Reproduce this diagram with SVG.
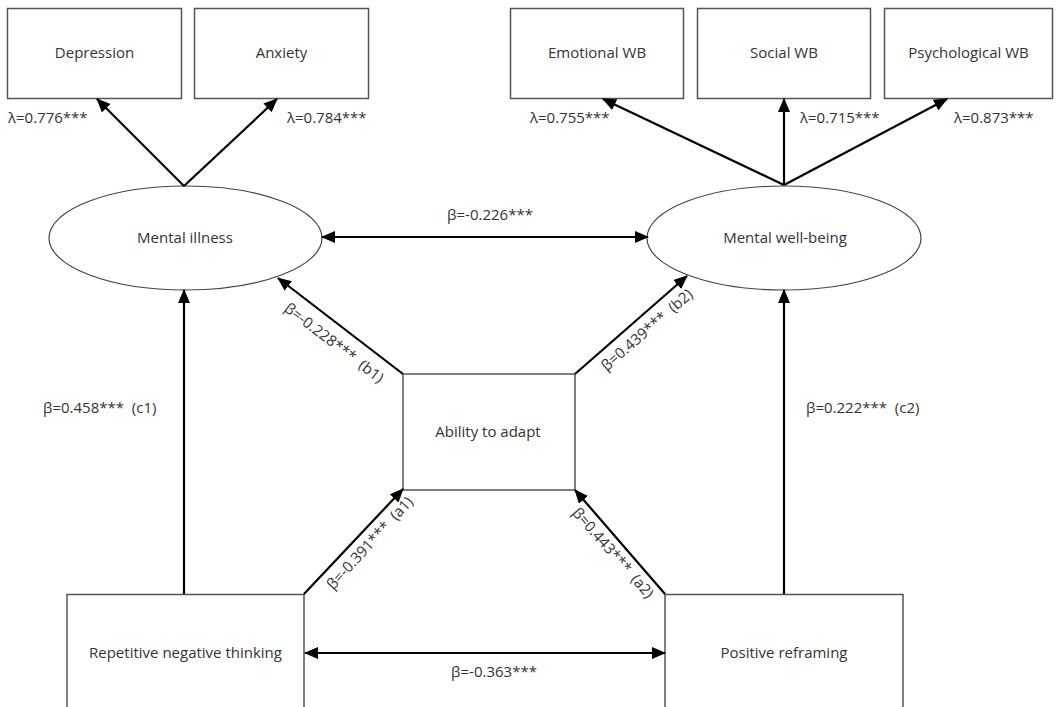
<svg xmlns="http://www.w3.org/2000/svg" width="1057" height="707" viewBox="0 0 1057 707">
<style>
  .box { fill: #fff; stroke: #555; stroke-width: 1.5; }
  .ell { fill: #fff; stroke: #444; stroke-width: 1.2; }
  .t { font-family: "Open Sans", "DejaVu Sans", sans-serif; font-size: 15px; fill: #333; }
  .c { text-anchor: middle; }
  .ln { stroke: #000; stroke-width: 2.2; fill: none; marker-end: url(#ah); }
  .dbl { marker-start: url(#ah); }
</style>
<defs>
  <marker id="ah" viewBox="0 0 14 12" refX="13" refY="6" markerWidth="14" markerHeight="12" markerUnits="userSpaceOnUse" orient="auto-start-reverse">
    <path d="M0,0 L14,6 L0,12 z" fill="#000"/>
  </marker>
</defs>
<rect width="1057" height="707" fill="#fff"/>

<g id="depression"><rect class="box" x="7.5" y="8.5" width="174" height="90"/><text class="t c" x="94.5" y="58">Depression</text></g>
<g id="anxiety"><rect class="box" x="194.5" y="8.5" width="174" height="90"/><text class="t c" x="281.5" y="58">Anxiety</text></g>
<g id="emotional-wb"><rect class="box" x="510.5" y="8.5" width="173" height="90"/><text class="t c" x="597" y="58">Emotional WB</text></g>
<g id="social-wb"><rect class="box" x="697.5" y="8.5" width="173" height="90"/><text class="t c" x="784" y="58">Social WB</text></g>
<g id="psychological-wb"><rect class="box" x="884.5" y="8.5" width="168" height="90"/><text class="t c" x="968.5" y="58">Psychological WB</text></g>

<g id="mental-illness"><ellipse class="ell" cx="185.5" cy="238" rx="136.5" ry="52"/><text class="t c" x="185" y="243">Mental illness</text></g>
<g id="mental-well-being"><ellipse class="ell" cx="784" cy="238" rx="137" ry="52"/><text class="t c" x="785" y="243">Mental well-being</text></g>

<g id="ability-to-adapt"><rect class="box" x="403" y="374" width="172" height="116"/><text class="t c" x="488" y="437">Ability to adapt</text></g>

<g id="repetitive-negative-thinking"><rect class="box" x="67" y="594.5" width="237" height="130"/><text class="t c" x="185.5" y="658">Repetitive negative thinking</text></g>
<g id="positive-reframing"><rect class="box" x="665" y="594.5" width="238" height="130"/><text class="t c" x="784" y="658">Positive reframing</text></g>

<g id="connectors">
  <line class="ln" x1="184" y1="186" x2="97" y2="99"/>
  <line class="ln" x1="184" y1="186" x2="277" y2="99"/>
  <line class="ln" x1="784" y1="185" x2="603" y2="99"/>
  <line class="ln" x1="784" y1="185" x2="784" y2="99"/>
  <line class="ln" x1="784" y1="185" x2="947" y2="99"/>
  <line class="ln dbl" x1="322" y1="237" x2="648" y2="237"/>
  <line class="ln" x1="184" y1="594" x2="184" y2="290"/>
  <line class="ln" x1="784" y1="594" x2="784" y2="290"/>
  <line class="ln" x1="403" y1="374" x2="278" y2="278"/>
  <line class="ln" x1="575" y1="374" x2="687" y2="276"/>
  <line class="ln" x1="304" y1="594" x2="403" y2="489"/>
  <line class="ln" x1="665" y1="594" x2="575" y2="490"/>
  <line class="ln dbl" x1="305" y1="653" x2="665" y2="653"/>
</g>

<g id="labels">
  <text class="t" x="8" y="123">λ=0.776***</text>
  <text class="t" x="287" y="123">λ=0.784***</text>
  <text class="t" x="530" y="123">λ=0.755***</text>
  <text class="t" x="800" y="123">λ=0.715***</text>
  <text class="t" x="954" y="123">λ=0.873***</text>
  <text class="t c" x="490" y="220">β=-0.226***</text>
  <text class="t" x="43" y="413">β=0.458***&#160; (c1)</text>
  <text class="t" x="806" y="413">β=0.222***&#160; (c2)</text>
  <text class="t c" x="494" y="677">β=-0.363***</text>
  <text class="t c" transform="translate(334,343) rotate(37.5)" y="5">β=-0.228***&#160; (b1)</text>
  <text class="t c" transform="translate(647,330) rotate(-41)" y="5">β=0.439***&#160; (b2)</text>
  <text class="t c" transform="translate(370,543) rotate(-47.5)" y="5">β=-0.391***&#160; (a1)</text>
  <text class="t c" transform="translate(613,553) rotate(48.8)" y="5">β=0.443***&#160; (a2)</text>
</g>
</svg>
